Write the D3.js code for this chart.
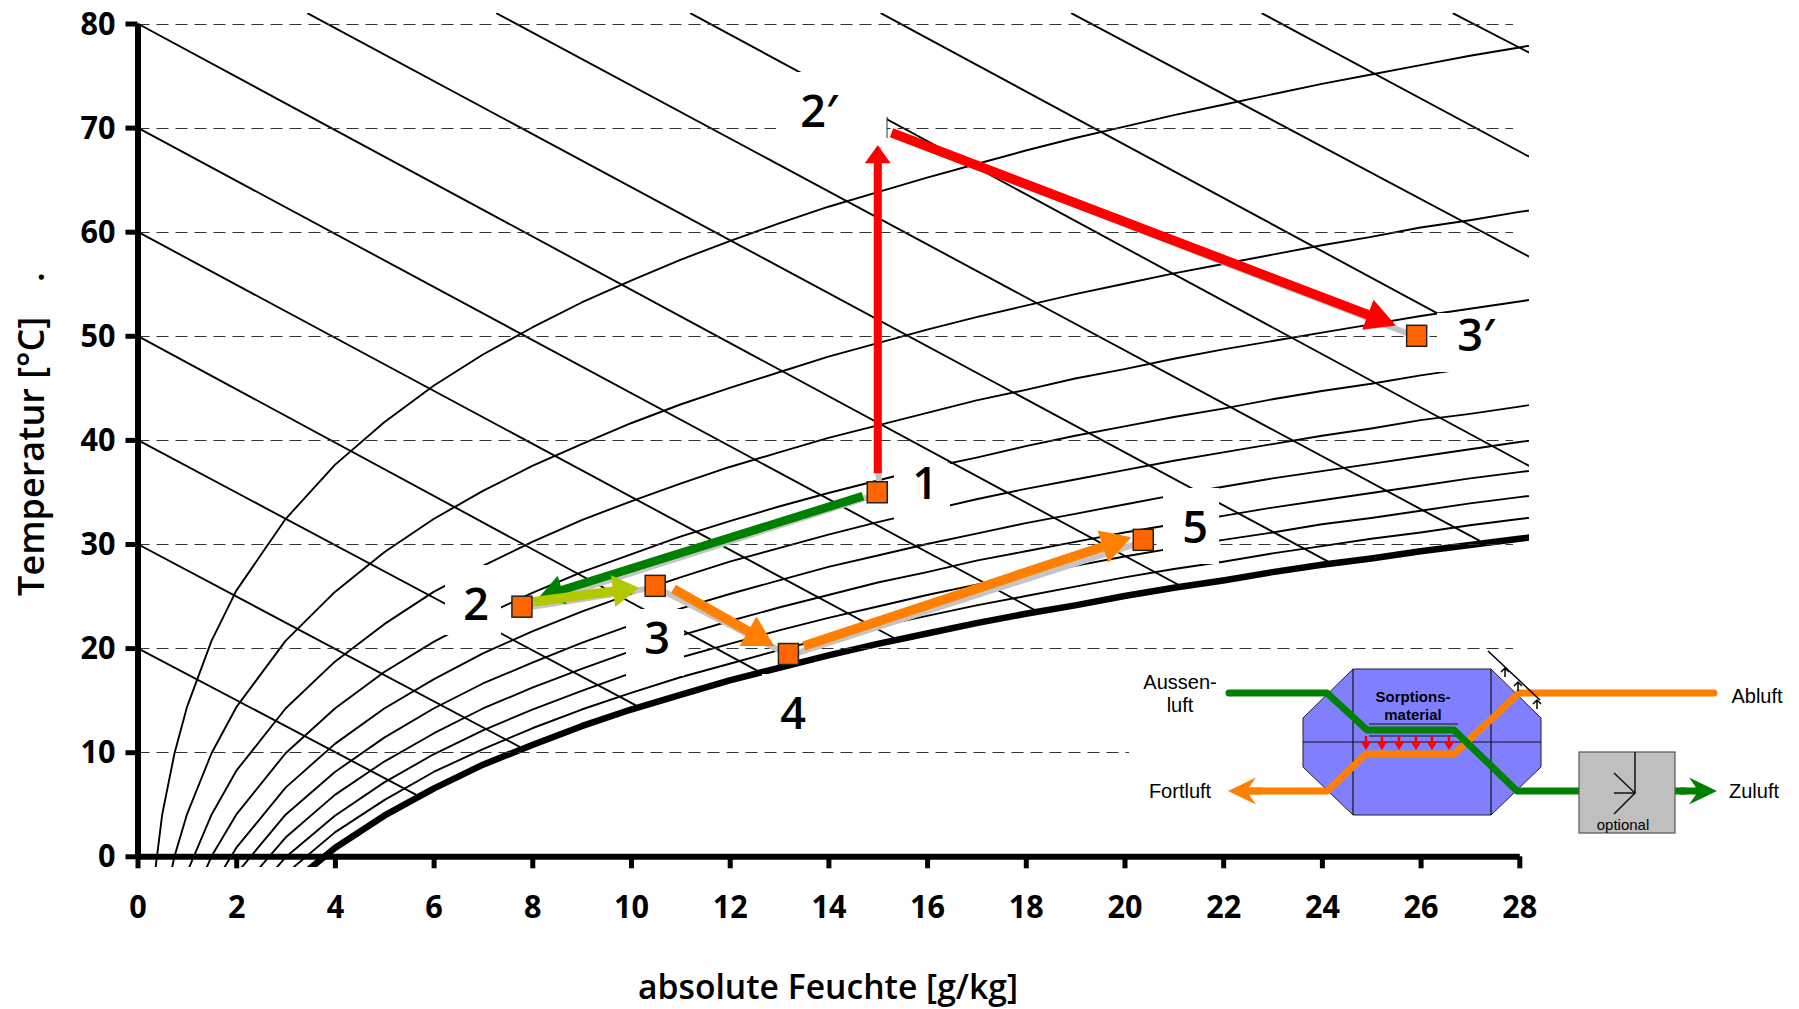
<!DOCTYPE html>
<html>
<head>
<meta charset="utf-8">
<script src="https://cdn.jsdelivr.net/npm/d3@7"></script>
<style>
  html, body { margin: 0; padding: 0; background: #fff; }
  svg { display: block; }
  text { fill: #000; }
  .chart-text { font-family: "Open Sans", sans-serif; font-weight: 600; }
  .legend-text { font-family: "Liberation Sans", Arial, sans-serif; font-size: 20px; }
</style>
</head>
<body>
<div id="chart"></div>
<script>
// Absolute humidity samples of the relative humidity curves
var humidity = [0.25, 0.5, 0.75, 1, 1.5, 2, 3, 4, 5, 6, 7, 8, 9, 10, 11, 12, 13, 14, 15, 16, 17, 18, 19, 20, 21, 22, 23, 24, 25, 26, 27, 28, 29];

// Temperature of each curve at the samples above, 10 % to 100 % relative humidity
var rh10 = [-5.5, 4.0, 9.9, 14.3, 20.7, 25.5, 32.4, 37.6, 41.7, 45.2, 48.2, 50.8, 53.2, 55.3, 57.3, 59.1, 60.8, 62.4, 63.8, 65.2, 66.5, 67.8, 69.0, 70.1, 71.2, 72.2, 73.2, 74.2, 75.1, 76.0, 76.9, 77.7, 78.5];
var rh20 = [-14.3, -5.5, 0.0, 4.0, 9.9, 14.3, 20.7, 25.4, 29.2, 32.4, 35.1, 37.5, 39.6, 41.6, 43.4, 45.0, 46.5, 48.0, 49.3, 50.6, 51.8, 52.9, 54.0, 55.0, 56.0, 56.9, 57.8, 58.7, 59.5, 60.4, 61.1, 61.9, 62.6];
var rh30 = [-19.1, -10.7, -5.5, -1.6, 4.0, 8.2, 14.2, 18.7, 22.3, 25.4, 27.9, 30.2, 32.3, 34.1, 35.8, 37.4, 38.8, 40.2, 41.4, 42.6, 43.8, 44.8, 45.9, 46.8, 47.8, 48.7, 49.5, 50.3, 51.1, 51.9, 52.6, 53.3, 54.0];
var rh40 = [-22.5, -14.3, -9.2, -5.5, 0.0, 4.0, 9.9, 14.2, 17.7, 20.6, 23.1, 25.3, 27.3, 29.0, 30.7, 32.2, 33.6, 34.9, 36.1, 37.3, 38.3, 39.4, 40.4, 41.3, 42.2, 43.0, 43.9, 44.7, 45.4, 46.2, 46.9, 47.5, 48.2];
var rh50 = [-25.0, -17.0, -12.0, -8.4, -3.1, 0.8, 6.6, 10.8, 14.2, 17.0, 19.5, 21.6, 23.5, 25.2, 26.8, 28.3, 29.6, 30.9, 32.1, 33.2, 34.3, 35.3, 36.2, 37.1, 38.0, 38.8, 39.6, 40.4, 41.1, 41.9, 42.5, 43.2, 43.9];
var rh60 = [-27.0, -19.1, -14.3, -10.7, -5.5, -1.7, 4.0, 8.1, 11.4, 14.2, 16.6, 18.6, 20.5, 22.2, 23.8, 25.2, 26.5, 27.8, 28.9, 30.0, 31.0, 32.0, 32.9, 33.8, 34.7, 35.5, 36.3, 37.0, 37.7, 38.4, 39.1, 39.8, 40.4];
var rh70 = [-28.6, -20.9, -16.2, -12.7, -7.5, -3.7, 1.8, 5.9, 9.1, 11.8, 14.2, 16.2, 18.0, 19.7, 21.2, 22.6, 23.9, 25.1, 26.3, 27.3, 28.4, 29.3, 30.2, 31.1, 31.9, 32.7, 33.5, 34.2, 34.9, 35.6, 36.3, 36.9, 37.5];
var rh80 = [-30.1, -22.5, -17.8, -14.3, -9.2, -5.5, -0.1, 3.9, 7.1, 9.8, 12.1, 14.1, 15.9, 17.6, 19.1, 20.4, 21.7, 22.9, 24.0, 25.1, 26.1, 27.0, 27.9, 28.8, 29.6, 30.4, 31.1, 31.9, 32.5, 33.2, 33.9, 34.5, 35.1];
var rh90 = [-31.3, -23.8, -19.1, -15.7, -10.7, -7.1, -1.7, 2.3, 5.4, 8.1, 10.3, 12.3, 14.1, 15.7, 17.2, 18.5, 19.8, 21.0, 22.1, 23.1, 24.1, 25.0, 25.9, 26.8, 27.6, 28.3, 29.1, 29.8, 30.5, 31.1, 31.8, 32.4, 33.0];
var rh100 = [-32.4, -25.0, -20.4, -17.0, -12.1, -8.4, -3.1, 0.8, 3.9, 6.5, 8.8, 10.7, 12.5, 14.1, 15.5, 16.9, 18.1, 19.3, 20.4, 21.4, 22.4, 23.3, 24.1, 25.0, 25.8, 26.5, 27.3, 28.0, 28.6, 29.3, 29.9, 30.5, 31.1];

// Enthalpy lines: start and end as [humidity, temperature]
var enthalpyLines = [
  [[0, 20], [5.65, 5.9]],
  [[0, 30], [7.75, 10.5]],
  [[0, 40], [10.1, 14.5]],
  [[0, 50], [12.65, 17.6]],
  [[0, 60], [15.33, 20.97]],
  [[0, 70], [18.18, 23.66]],
  [[0, 80], [21.1, 26.06]],
  [[3.44, 81], [24.13, 28.3]],
  [[7.27, 81], [27.2, 30.3]],
  [[11.2, 81], [28.2, 37.5]],
  [[15.06, 81], [28.2, 47.4]],
  [[18.92, 81], [28.2, 57.6]],
  [[22.78, 81], [28.2, 67.2]],
  [[26.65, 81], [28.2, 77.2]]
];

var xTicks = [0, 2, 4, 6, 8, 10, 12, 14, 16, 18, 20, 22, 24, 26, 28];
var yTicks = [0, 10, 20, 30, 40, 50, 60, 70, 80];

// State points of the process
var pointNames = ['1', '2', '3', '4', '5', '3\u2032'];
var pointX = [14.99, 7.79, 10.49, 13.19, 20.38, 25.92];
var pointT = [34.97, 23.98, 25.98, 19.43, 30.4, 50];

// Process arrows
var arrowColors = ['#ff0000', '#ff0000', '#008000', '#b4c800', '#ff8000', '#ff8000'];
var arrowStartX = [15, 15.28, 14.7, 7.95, 10.86, 13.5];
var arrowStartT = [36.8, 69.5, 34.6, 24.4, 25.7, 20.2];
var arrowTipX = [15, 25.5, 8.14, 10.16, 12.9, 20.14];
var arrowTipT = [68.3, 51, 24.9, 25.8, 20.2, 30.65];
var shadowFromX = [15, 15.28, 14.99, 7.79, 10.49, 13.19];
var shadowFromT = [34.97, 69.5, 34.97, 23.98, 25.98, 19.43];
var shadowToX = [15, 25.92, 7.79, 10.49, 13.19, 20.38];
var shadowToT = [68.3, 50, 23.98, 25.98, 19.43, 30.4];

var width = 1799, height = 1009;

// line width, head length, head width of the arrows above
var arrowShape = [[8, 18, 26], [9.5, 30, 32], [8.5, 24, 30], [9.5, 26, 32], [9.5, 30, 34], [9.5, 30, 34]];

var x = d3.scaleLinear().domain([0, 28]).range([137.5, 1519.3]);
var y = d3.scaleLinear().domain([0, 80]).range([856.3, 23.5]);

var svg = d3.select('#chart').append('svg')
            .attr('width', width)
            .attr('height', height);

svg.append('clipPath').attr('id', 'plot-clip')
   .append('rect')
   .attr('x', x(0)).attr('y', 13)
   .attr('width', 1529 - x(0)).attr('height', 867 - 13);

var curveLine = d3.line()
                  .x(function(d, i) { return x(humidity[i]); })
                  .y(function(d) { return y(d); });

var plot = svg.append('g').attr('clip-path', 'url(#plot-clip)');

// Relative humidity curves, the saturation curve is the heavy one
plot.selectAll('path.rh')
    .data([rh10, rh20, rh30, rh40, rh50, rh60, rh70, rh80, rh90, rh100])
    .enter().append('path')
    .classed('rh', true)
    .attr('d', curveLine)
    .attr('fill', 'none')
    .attr('stroke', 'black')
    .attr('stroke-linejoin', 'round')
    .attr('stroke-width', function(d, i) { return i === 9 ? 6.5 : 1.9; });

plot.selectAll('line.enthalpy')
    .data(enthalpyLines)
    .enter().append('line')
    .classed('enthalpy', true)
    .attr('x1', function(d) { return x(d[0][0]); })
    .attr('y1', function(d) { return y(d[0][1]); })
    .attr('x2', function(d) { return x(d[1][0]); })
    .attr('y2', function(d) { return y(d[1][1]); })
    .attr('stroke', 'black')
    .attr('stroke-width', 1.9);

// Dashed grid
svg.selectAll('line.grid')
   .data(yTicks.slice(1))
   .enter().append('line')
   .classed('grid', true)
   .attr('x1', x(0))
   .attr('x2', 1513)
   .attr('y1', function(d) { return Math.round(y(d)) + 0.5; })
   .attr('y2', function(d) { return Math.round(y(d)) + 0.5; })
   .attr('stroke', '#333')
   .attr('stroke-width', 1)
   .attr('stroke-dasharray', '12 7');

// White boxes behind the labels hide the lines, same as in the original drawing
var boxes = [
  [894, 463, 56, 56],
  [445, 565, 56, 70],
  [626, 609, 58, 67],
  [762, 674, 64, 62],
  [1163, 488, 56, 76],
  [776, 72, 111, 78],
  [1437, 313, 100, 59],
  [1129, 660, 670, 185]
];
svg.selectAll('rect.label-box')
   .data(boxes)
   .enter().append('rect')
   .classed('label-box', true)
   .attr('x', function(d) { return d[0]; })
   .attr('y', function(d) { return d[1]; })
   .attr('width', function(d) { return d[2]; })
   .attr('height', function(d) { return d[3]; })
   .attr('fill', 'white');

// small stroke left of the 2' corner
svg.append('line')
   .attr('x1', 887).attr('x2', 887).attr('y1', 117).attr('y2', 138)
   .attr('stroke', '#333').attr('stroke-width', 1);

// Axes
var xAxis = d3.axisBottom(x).tickValues(xTicks).tickSize(12).tickSizeOuter(0).tickPadding(26);
var yAxis = d3.axisLeft(y).tickValues(yTicks).tickSize(12).tickSizeOuter(0).tickPadding(10);

[svg.append('g').attr('transform', 'translate(0,' + y(0) + ')').call(xAxis),
 svg.append('g').attr('transform', 'translate(' + x(0) + ',0)').call(yAxis)].forEach(function(axis) {
  axis.select('.domain').attr('stroke', 'black').attr('stroke-width', 6);
  axis.selectAll('.tick line').attr('stroke', 'black').attr('stroke-width', 5);
  axis.selectAll('.tick text')
      .classed('chart-text', true)
      .style('font-size', '33px')
      .style('font-weight', 700)
      .attr('fill', 'black')
      .attr('lengthAdjust', 'spacingAndGlyphs')
      .attr('textLength', function(d) { return String(d).length * 17.5; });
});

svg.append('text')
   .classed('chart-text', true)
   .attr('x', 828).attr('y', 998.5)
   .attr('text-anchor', 'middle')
   .attr('textLength', 380).attr('lengthAdjust', 'spacingAndGlyphs')
   .style('font-size', '35px')
   .text('absolute Feuchte [g/kg]');

svg.append('text')
   .classed('chart-text', true)
   .attr('transform', 'translate(44,456.4) rotate(-90)')
   .attr('text-anchor', 'middle')
   .attr('textLength', 279).attr('lengthAdjust', 'spacingAndGlyphs')
   .style('font-size', '36px')
   .text('Temperatur [\u00b0C]');

svg.append('text')
   .classed('chart-text', true)
   .attr('transform', 'translate(44,277) rotate(-90)')
   .attr('text-anchor', 'middle')
   .style('font-size', '36px')
   .text('.');

// Gray shadow lines first, the colored arrows on top
svg.selectAll('line.shadow')
   .data(arrowColors)
   .enter().append('line')
   .classed('shadow', true)
   .attr('x1', function(d, i) { return x(shadowFromX[i]) + 1; })
   .attr('y1', function(d, i) { return y(shadowFromT[i]) + 1.5; })
   .attr('x2', function(d, i) { return x(shadowToX[i]) + 1; })
   .attr('y2', function(d, i) { return y(shadowToT[i]) + 1.5; })
   .attr('stroke', '#c4c4c4')
   .attr('stroke-width', 6);

function arrowPath(x1, y1, x2, y2, w, headLen, headW, notch) {
  var a = Math.atan2(y2 - y1, x2 - x1);
  var ux = Math.cos(a), uy = Math.sin(a);
  var bx = x2 - ux * headLen, by = y2 - uy * headLen;
  // the head may be swept back, then the shaft stops at the notch
  var sx = x2 - ux * headLen * (notch || 1), sy = y2 - uy * headLen * (notch || 1);
  var nx = -uy, ny = ux;
  var p = d3.path();
  p.moveTo(x1 + nx * w / 2, y1 + ny * w / 2);
  p.lineTo(sx + nx * w / 2, sy + ny * w / 2);
  p.lineTo(bx + nx * headW / 2, by + ny * headW / 2);
  p.lineTo(x2, y2);
  p.lineTo(bx - nx * headW / 2, by - ny * headW / 2);
  p.lineTo(sx - nx * w / 2, sy - ny * w / 2);
  p.lineTo(x1 - nx * w / 2, y1 - ny * w / 2);
  p.closePath();
  return p.toString();
}

svg.selectAll('path.arrow')
   .data(arrowColors)
   .enter().append('path')
   .classed('arrow', true)
   .attr('d', function(d, i) {
     var s = arrowShape[i];
     return arrowPath(x(arrowStartX[i]), y(arrowStartT[i]), x(arrowTipX[i]), y(arrowTipT[i]), s[0], s[1], s[2]);
   })
   .attr('fill', function(d) { return d; });

// Markers and their labels
svg.selectAll('rect.point')
   .data(pointX)
   .enter().append('rect')
   .classed('point', true)
   .attr('x', function(d) { return x(d) - 10; })
   .attr('y', function(d, i) { return y(pointT[i]) - 10.5; })
   .attr('width', 20)
   .attr('height', 21)
   .attr('fill', '#ff6600')
   .attr('stroke', '#222')
   .attr('stroke-width', 1.5);

var labelNames = pointNames.concat(['2\u2032']);
var labelX = [925, 476, 657, 793, 1195, 1476, 819];
var labelY = [499, 620, 654, 729, 543, 351, 127];

svg.selectAll('text.point-label')
   .data(labelNames)
   .enter().append('text')
   .classed('point-label chart-text', true)
   .attr('x', function(d, i) { return labelX[i]; })
   .attr('y', function(d, i) { return labelY[i]; })
   .attr('text-anchor', 'middle')
   .style('font-size', '45px')
   .text(function(d) { return d; });

// Inset with the sorption wheel scheme
var inset = svg.append('g');
var poly = d3.line().x(function(d) { return d[0]; }).y(function(d) { return d[1]; });

inset.append('path')
     .attr('d', poly([[1353, 669], [1491, 669], [1541, 718], [1541, 767], [1491, 815], [1353, 815], [1303, 767], [1303, 718]]) + 'Z')
     .attr('fill', '#8080ff')
     .attr('stroke', '#222')
     .attr('stroke-width', 1);

[[[1353, 669], [1353, 815]], [[1491, 669], [1491, 815]], [[1303, 742], [1541, 742]],
 [[1369, 724], [1458, 724]], [[1369, 736], [1458, 736]]].forEach(function(seg) {
  inset.append('path').attr('d', poly(seg)).attr('fill', 'none').attr('stroke', '#111').attr('stroke-width', 1.2);
});

inset.selectAll('path.wheel-arrow')
     .data([1366, 1382, 1399, 1416, 1432, 1449])
     .enter().append('path')
     .classed('wheel-arrow', true)
     .attr('d', function(d) { return arrowPath(d, 736, d, 750, 2.5, 8, 10); })
     .attr('fill', '#ff0000');

// Air paths
inset.append('path')
     .attr('d', poly([[1250, 791], [1327, 791], [1366, 754], [1454, 754], [1519, 693], [1714, 693]]))
     .attr('fill', 'none').attr('stroke', '#ff8000').attr('stroke-width', 7)
     .attr('stroke-linecap', 'round').attr('stroke-linejoin', 'round');
inset.append('path')
     .attr('d', arrowPath(1262, 791, 1228, 791, 7, 28, 27, 0.75))
     .attr('fill', '#ff8000');
inset.append('path')
     .attr('d', poly([[1229, 693], [1327, 693], [1367, 730], [1454, 730], [1517, 791], [1685, 791]]))
     .attr('fill', 'none').attr('stroke', '#008000').attr('stroke-width', 7)
     .attr('stroke-linecap', 'round').attr('stroke-linejoin', 'round');
inset.append('path')
     .attr('d', arrowPath(1680, 791, 1717, 791, 7, 28, 27, 0.75))
     .attr('fill', '#008000');

// Optional heater box
inset.append('rect')
     .attr('x', 1579).attr('y', 752).attr('width', 96).attr('height', 81)
     .attr('fill', '#bfbfbf').attr('stroke', '#555').attr('stroke-width', 1.2);
[[[1635, 752], [1635, 793]], [[1614, 773], [1635, 793], [1614, 814]], [[1614, 793], [1635, 793]]].forEach(function(seg) {
  inset.append('path').attr('d', poly(seg)).attr('fill', 'none').attr('stroke', '#111').attr('stroke-width', 1.5);
});

// Slanted line with the small arrows at the upper right corner of the wheel
inset.append('path').attr('d', poly([[1488, 651], [1540, 700]])).attr('stroke', '#000').attr('stroke-width', 1.5);
[[1505, 668], [1518, 682], [1537, 700]].forEach(function(t) {
  inset.append('path')
       .attr('d', poly([[t[0], t[1] + 9], [t[0], t[1]]]) + poly([[t[0] - 4, t[1] + 4], [t[0], t[1]], [t[0] + 4, t[1] + 4]]))
       .attr('fill', 'none').attr('stroke', '#000').attr('stroke-width', 1.5);
});

var legendNames = ['Aussen-', 'luft', 'Fortluft', 'Abluft', 'Zuluft'];
var legendX = [1180, 1180, 1180, 1757, 1754];
var legendY = [689, 712, 798, 703, 798];
inset.selectAll('text.legend-text')
     .data(legendNames)
     .enter().append('text')
     .classed('legend-text', true)
     .attr('x', function(d, i) { return legendX[i]; })
     .attr('y', function(d, i) { return legendY[i]; })
     .attr('text-anchor', 'middle')
     .text(function(d) { return d; });

inset.append('text').attr('x', 1413).attr('y', 702).attr('text-anchor', 'middle')
     .style('font', 'bold 15px "Liberation Sans", Arial, sans-serif').text('Sorptions-');
inset.append('text').attr('x', 1413).attr('y', 720).attr('text-anchor', 'middle')
     .style('font', 'bold 15px "Liberation Sans", Arial, sans-serif').text('material');
inset.append('text').attr('x', 1623).attr('y', 830).attr('text-anchor', 'middle')
     .style('font', '15px "Liberation Sans", Arial, sans-serif').text('optional');
</script>
</body>
</html>
